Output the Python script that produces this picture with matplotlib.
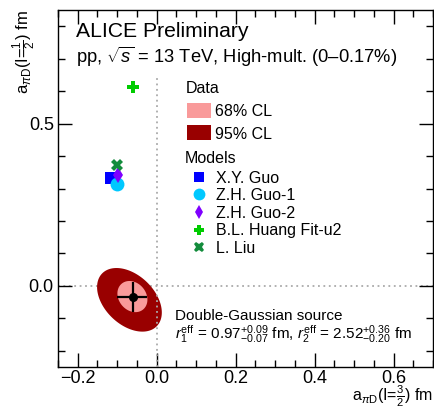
import numpy as np
import matplotlib
matplotlib.use("Agg")
import matplotlib.pyplot as plt
from matplotlib.patches import Rectangle

plt.rcParams['font.family'] = ['Liberation Sans', 'DejaVu Sans']
plt.rcParams['mathtext.fontset'] = 'custom'
plt.rcParams['mathtext.rm'] = 'Liberation Sans'
plt.rcParams['mathtext.it'] = 'Liberation Sans:italic'
plt.rcParams['mathtext.bf'] = 'Liberation Sans:bold'

# ---- data ----
meas_x = -0.060
meas_y = -0.034
meas_xerr = [[0.041], [0.035]]
meas_yerr = [[0.045], [0.045]]

# confidence regions: center x, center y, half extent x, half extent y, correlation
cl68 = [-0.0615, -0.033, 0.038, 0.048, -0.20]
cl95 = [-0.069, -0.043, 0.082, 0.098, -0.40]

model_names = ["X.Y. Guo", "Z.H. Guo-1", "Z.H. Guo-2", "B.L. Huang Fit-u2", "L. Liu"]
model_x = [-0.115, -0.100, -0.099, -0.059, -0.100]
model_y = [0.333, 0.313, 0.341, 0.612, 0.372]
model_markers = ["s", "o", "d", "P", "X"]
model_colors = ["#0000ff", "#00c8ff", "#7f00ff", "#00cc00", "#138c3c"]
model_sizes = [9, 10, 8, 9, 9]

xticks = [-0.2, 0.0, 0.2, 0.4, 0.6]
yticks = [0.0, 0.5]

c68 = "#f99a9a"
c95 = "#990000"

fig = plt.figure(figsize=(4.34, 4.09), dpi=100)
ax = fig.add_axes([58/434, 42/409, 375/434, 357/409])
ax.set_xlim(-0.25, 0.70)
ax.set_ylim(-0.25, 0.85)


def region(p):
    cx, cy, hx, hy, rho = p
    t = np.linspace(0, 2*np.pi, 300)
    xs = cx + hx*np.cos(t)
    ys = cy + hy*(rho*np.cos(t) + np.sqrt(1 - rho**2)*np.sin(t))
    return xs, ys

ax.axhline(0.0, color="#aaaaaa", ls=(0, (1, 2)), lw=1.3, zorder=1)
xs, ys = region(cl95)
ax.fill(xs, ys, color=c95, lw=0, zorder=2)
xs, ys = region(cl68)
ax.fill(xs, ys, color=c68, lw=0, zorder=3)
ax.plot([0, 0], [-0.25, 0.65], color="#aaaaaa", ls=(0, (1, 2)), lw=1.3, zorder=4)
ax.errorbar([meas_x], [meas_y], xerr=meas_xerr, yerr=meas_yerr, fmt="o",
            color="black", ms=5.5, elinewidth=1.6, capsize=0, zorder=5)

for i in range(len(model_names)):
    ax.plot([model_x[i]], [model_y[i]], ls="none", marker=model_markers[i],
            color=model_colors[i], ms=model_sizes[i], mew=0, zorder=6)

# ---- ticks ----
ax.set_xticks(xticks)
ax.set_yticks(yticks)
ax.set_xticklabels(["\u22120.2", "0.0", "0.2", "0.4", "0.6"])
ax.set_yticklabels(["0.0", "0.5"])
ax.set_xticks(np.arange(-0.25, 0.701, 0.05), minor=True)
ax.set_yticks(np.arange(-0.2, 0.851, 0.1), minor=True)
ax.tick_params(which="both", direction="in", top=True, right=True, labelsize=13, width=1.0)
ax.tick_params(which="major", length=10)
ax.tick_params(which="minor", length=5)
ax.tick_params(axis="x", pad=2)
ax.tick_params(axis="y", pad=3)
for s in ax.spines.values():
    s.set_linewidth(1.0)

ax.set_xlabel(r"a$_{\pi\mathrm{D}}$(I=$\frac{3}{2}$) fm", fontsize=11.5)
ax.xaxis.set_label_coords(1.0, -0.095)
ax.xaxis.label.set_ha("right")
ax.xaxis.label.set_va("baseline")
ax.set_ylabel(r"a$_{\pi\mathrm{D}}$(I=$\frac{1}{2}$) fm", fontsize=12)
ax.yaxis.set_label_coords(-0.09, 1.0)
ax.yaxis.label.set_ha("right")
ax.yaxis.label.set_va("center")

# ---- texts ----
def fx(px):
    return (px - 58) / 375

def fy(py):
    return (367 - py) / 357

ax.text(fx(76), fy(37), "ALICE Preliminary", transform=ax.transAxes, fontsize=15.2, va="baseline")
ax.text(fx(76), fy(63), "pp, $\\sqrt{s}$ = 13 TeV, High-mult. (0\u20130.17%)",
        transform=ax.transAxes, fontsize=13.2, va="baseline")

ax.text(fx(186), fy(93), "Data", transform=ax.transAxes, fontsize=11.5, va="baseline")
ax.add_patch(Rectangle((fx(187), fy(117.5)), 24/375, 15/357, transform=ax.transAxes,
                       color=c68, lw=0))
ax.add_patch(Rectangle((fx(187), fy(140)), 24/375, 15/357, transform=ax.transAxes,
                       color=c95, lw=0))
ax.text(fx(215), fy(116.5), "68% CL", transform=ax.transAxes, fontsize=11.5, va="baseline")
ax.text(fx(215), fy(139), "95% CL", transform=ax.transAxes, fontsize=11.5, va="baseline")
ax.text(fx(185), fy(163), "Models", transform=ax.transAxes, fontsize=11.5, va="baseline")
leg_y = [176.7, 194.3, 211.7, 229.5, 247.0]
for i in range(len(model_names)):
    ax.plot([fx(199)], [fy(leg_y[i])], transform=ax.transAxes, ls="none",
            marker=model_markers[i], color=model_colors[i], ms=model_sizes[i]*0.85, mew=0,
            clip_on=False)
    ax.text(fx(215.5), fy(leg_y[i]), model_names[i], transform=ax.transAxes,
            fontsize=11.5, va="center_baseline")

ax.text(fx(175), fy(320), "Double-Gaussian source", transform=ax.transAxes, fontsize=11, va="baseline")
ax.text(fx(175), fy(339),
        r"$\mathit{r}_{1}^{\mathrm{eff}}$ = 0.97$^{+0.09}_{-0.07}$ fm, "
        r"$\mathit{r}_{2}^{\mathrm{eff}}$ = 2.52$^{+0.36}_{-0.20}$ fm",
        transform=ax.transAxes, fontsize=11, va="baseline")

fig.savefig("out.png", dpi=100)
